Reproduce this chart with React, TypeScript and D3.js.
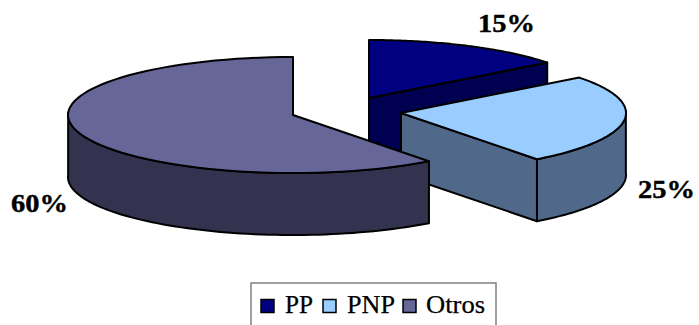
import React from "react";
import * as d3 from "d3";

// Share of each group, in percent
const categories = ["PP", "PNP", "Otros"];
const shares = [15, 25, 60];
const valueLabels = ["15%", "25%", "60%"];

const topColors = ["#000080", "#99CCFF", "#666699"];
const sideColors = ["#000050", "#50688A", "#333350"];

// Exploded slice apexes in pixels
const apexX = [369, 401, 293];
const apexY = [98, 113, 115];
const labelX = [478, 638, 11];
const labelY = [32, 198, 212];

const RX = 225;
const RY = 58;
const DEPTH = 62;
const WIDTH = 699;
const HEIGHT = 325;
// Slight foreshortening of the angle around the tilted disc
const WARP = (2 * Math.PI) / 180;

const arcs = d3.pie<number>().sort(null).startAngle(0).endAngle(2 * Math.PI)(shares);

// Tilted pie: an angle measured clockwise from 12 o'clock lands on an ellipse
const project = (i: number, angle: number, dz = 0): [number, number] => {
  const a = angle - WARP * Math.sin(angle);
  return [apexX[i] + RX * Math.sin(a), apexY[i] - RY * Math.cos(a) + dz];
};

const angleRange = (a0: number, a1: number) =>
  d3.range(0, 73).map((k) => a0 + ((a1 - a0) * k) / 72);

const line = d3.line();

const topPath = (i: number) => {
  const { startAngle, endAngle } = arcs[i];
  return (
    line([
      [apexX[i], apexY[i]],
      ...angleRange(startAngle, endAngle).map((a) => project(i, a)),
    ]) + "Z"
  );
};

// Rim wall below the rim between two angles
const rimPath = (i: number, a0: number, a1: number) => {
  const rng = angleRange(a0, a1);
  return (
    line([
      ...rng.map((a) => project(i, a)),
      ...rng.slice().reverse().map((a) => project(i, a, DEPTH)),
    ]) + "Z"
  );
};

// Flat cut wall running from the apex out to the rim at one angle
const cutPath = (i: number, a: number) =>
  line([
    [apexX[i], apexY[i]],
    project(i, a),
    project(i, a, DEPTH),
    [apexX[i], apexY[i] + DEPTH],
  ]) + "Z";

const strokeProps = { stroke: "#000", strokeWidth: 2, strokeLinejoin: "round" as const };

const legendSwatchX = [261, 323, 403];
const legendTextX = [285, 347, 426];
const legendTextW = [28, 48, 59];
const labelW = [57, 57, 57];
const serif = "Liberation Serif, Times New Roman, serif";

export default function App() {
  return (
    <svg
      width={WIDTH}
      height={HEIGHT}
      style={{ position: "absolute", left: 0, top: 0, background: "#fff" }}
    >
      {/* PP */}
      <path d={cutPath(0, arcs[0].endAngle)} fill={sideColors[0]} {...strokeProps} />
      <path d={topPath(0)} fill={topColors[0]} {...strokeProps} />

      {/* PNP */}
      <path
        d={rimPath(1, Math.PI / 2, arcs[1].endAngle)}
        fill={sideColors[1]}
        {...strokeProps}
      />
      <path d={cutPath(1, arcs[1].endAngle)} fill={sideColors[1]} {...strokeProps} />
      <path d={topPath(1)} fill={topColors[1]} {...strokeProps} />

      {/* Otros */}
      <path
        d={rimPath(2, arcs[2].startAngle, (3 * Math.PI) / 2)}
        fill={sideColors[2]}
        {...strokeProps}
      />
      <path d={topPath(2)} fill={topColors[2]} {...strokeProps} />

      {valueLabels.map((t, i) => (
        <text
          key={t}
          x={labelX[i]}
          y={labelY[i]}
          style={{ fontFamily: serif }}
          fontSize={26}
          fontWeight="bold"
          stroke="#000"
          strokeWidth={0.4}
          textLength={labelW[i]}
          lengthAdjust="spacingAndGlyphs"
        >
          {t}
        </text>
      ))}

      {/* Legend box runs off the bottom edge */}
      <rect x={251} y={283} width={245} height={60} fill="#fff" stroke="#808080" strokeWidth={1.5} />
      {categories.map((c, i) => (
        <g key={c}>
          <rect
            x={legendSwatchX[i]}
            y={299.5}
            width={13}
            height={13}
            fill={topColors[i]}
            stroke="#000"
            strokeWidth={1.5}
          />
          <text
            x={legendTextX[i]}
            y={313}
            style={{ fontFamily: serif }}
            fontSize={25}
            stroke="#000"
            strokeWidth={0.25}
            textLength={legendTextW[i]}
            lengthAdjust="spacingAndGlyphs"
          >
            {c}
          </text>
        </g>
      ))}
    </svg>
  );
}
